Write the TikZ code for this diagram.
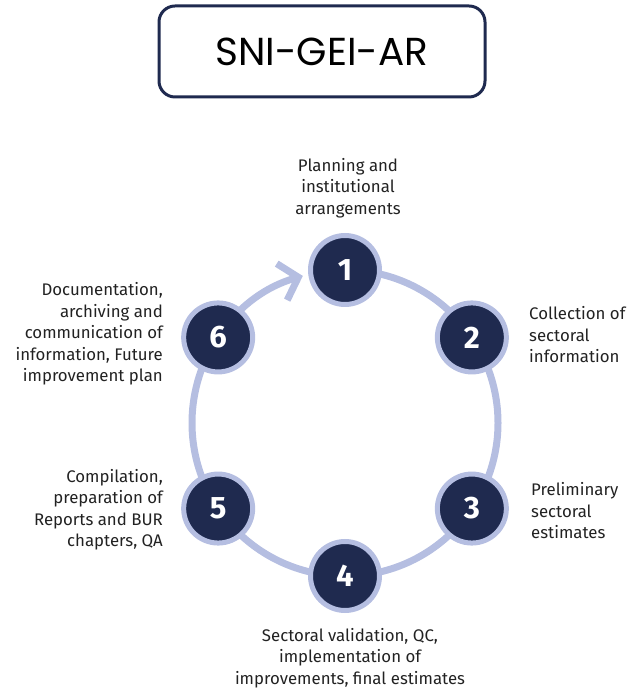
\documentclass[tikz,border=0pt]{standalone}
\usepackage{fontspec}
\setmainfont{Fira Sans}
\newfontfamily\titlefont{Poppins}
\usetikzlibrary{arrows.meta, positioning, backgrounds}

\definecolor{navy}{HTML}{1F2A4F}
\definecolor{ringblue}{HTML}{B5BEE1}
\definecolor{textgray}{HTML}{222222}

\tikzset{
  stepdot/.style={circle, fill=navy, draw=ringblue, line width=5pt, minimum size=69pt,
    text=white, font=\bfseries\fontsize{31}{31}\selectfont},
  steptext/.style={text=textgray, inner sep=0pt, font=\fontsize{16.8}{21.5}\selectfont}
}

\begin{document}
\begin{tikzpicture}[x=1pt,y=1pt]
\useasboundingbox (0,0) rectangle (628,690);

\node[draw=navy, line width=3pt, rounded corners=16pt, minimum width=326pt, minimum height=91pt,
  font=\titlefont\fontsize{39}{48}\selectfont] (title) at (322,638.5) {SNI-GEI-AR};

\coordinate (c) at (345,267);

\foreach \i/\a in {1/90,2/34,3/-34,4/-90,5/214,6/146}
{
  \node[stepdot] (n\i) at ([shift={(\a:153)}]c) {\i};
}

\begin{scope}[on background layer]
\draw[ringblue, line width=7pt, -{Straight Barb[length=17pt,width=38pt]}]
  (n1.center) arc[start angle=90, end angle=-254, radius=153];
\end{scope}

\node[steptext, align=center] (l1) at (348,502) {Planning and\\institutional\\arrangements};
\node[steptext, align=left, anchor=west] (l2) at (529,355) {Collection of\\sectoral\\information};
\node[steptext, align=left, anchor=west] (l3) at (531,179) {Preliminary\\sectoral\\estimates};
\node[steptext, align=center] (l4) at (350,32) {Sectoral validation, QC,\\implementation of\\improvements, final estimates};
\node[steptext, align=right, anchor=east] (l5) at (163,180.5) {Compilation,\\preparation of\\Reports and BUR\\chapters, QA};
\node[steptext, align=right, anchor=east] (l6) at (163,356) {Documentation,\\archiving and\\communication of\\information, Future\\improvement plan};

\end{tikzpicture}
\end{document}
